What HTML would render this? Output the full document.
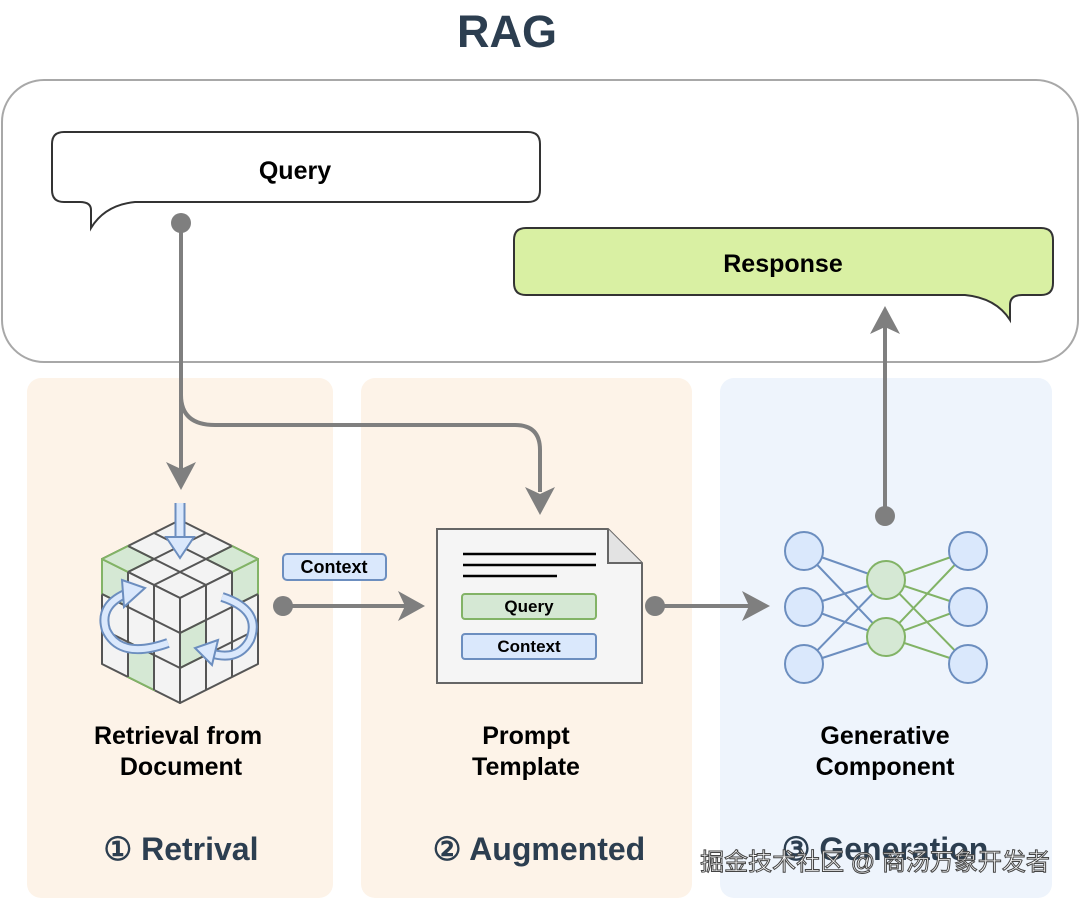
<!DOCTYPE html>
<html><head><meta charset="utf-8"><style>
html,body{margin:0;padding:0;background:#fff;}
body{width:1080px;height:900px;overflow:hidden;}
text{font-family:"Liberation Sans",Arial,sans-serif;font-weight:bold;}
</style></head><body>
<svg width="1080" height="900" viewBox="0 0 1080 900" xmlns="http://www.w3.org/2000/svg">
<text x="507" y="47" text-anchor="middle" font-size="45" fill="#2c3e50">RAG</text>
<rect x="2" y="80" width="1076" height="282" rx="42" fill="#fff" stroke="#a8a8a8" stroke-width="2"/>
<rect x="27" y="378" width="306" height="520" rx="14" fill="#fdf3e8"/>
<rect x="361" y="378" width="331" height="520" rx="14" fill="#fdf3e8"/>
<rect x="720" y="378" width="332" height="520" rx="14" fill="#eef4fc"/>

<!-- Query bubble -->
<path d="M64 132 H528 Q540 132 540 144 V190 Q540 202 528 202 H135 Q105 205 91 228 V210 Q91 202 80 202 H64 Q52 202 52 190 V144 Q52 132 64 132 Z" fill="#fff" stroke="#333" stroke-width="2"/>
<text x="295" y="179" text-anchor="middle" font-size="25" fill="#000">Query</text>
<!-- Response bubble -->
<path d="M526 228 H1041 Q1053 228 1053 240 V283 Q1053 295 1041 295 H1022 Q1010 295 1010 305 V320 Q996 298 965 295 H526 Q514 295 514 283 V240 Q514 228 526 228 Z" fill="#d9f0a3" stroke="#333" stroke-width="2"/>
<text x="783" y="272" text-anchor="middle" font-size="25" fill="#000">Response</text>

<!-- connectors -->
<g stroke="#7f7f7f" stroke-width="4" fill="none">
<path d="M181 223 V470"/>
<path d="M181 395 Q181 425 215 425 H515 Q540 425 540 450 V492"/>
<path d="M283 606 H408"/>
<path d="M655 606 H752"/>
<path d="M885 516 V325"/>
</g>
<g fill="#7f7f7f">
<circle cx="181" cy="223" r="10"/>
<polygon points="166,462 181,490 196,462 181,469"/>
<polygon points="525,487 540,515 555,487 540,494"/>
<circle cx="283" cy="606" r="10"/>
<polygon points="398,591 425,606 398,621 405,606"/>
<circle cx="655" cy="606" r="10"/>
<polygon points="742,591 770,606 742,621 749,606"/>
<circle cx="885" cy="516" r="10"/>
<polygon points="870,334 885,306 900,334 885,327"/>
</g>

<!-- Context tag -->
<rect x="283" y="554" width="103" height="26" rx="4" fill="#dae8fc" stroke="#6c8ebf" stroke-width="2"/>
<text x="334" y="573" text-anchor="middle" font-size="18" fill="#000">Context</text>

<!-- cube -->
<g stroke="#555" stroke-width="2" stroke-linejoin="round">
<polygon points="180,520 258,559 180,598 102,559" fill="#f3f3f3"/>
<polygon points="102,559 180,598 180,703 102,664" fill="#f3f3f3"/>
<polygon points="180,598 258,559 258,664 180,703" fill="#f3f3f3"/>
<g stroke="#82b366" fill="#d5e8d4">
<polygon points="102,559 128,572 128,607 102,594"/>
<polygon points="128,642 154,655 154,690 128,677"/>
<polygon points="232,572 258,559 258,594 232,607"/>
<polygon points="180,633 206,620 206,655 180,668"/>
<polygon points="102,559 128,546 154,559 128,572"/>
<polygon points="258,559 232,546 206,559 232,572"/>
</g>
<path d="M206 533 L128 572 M232 546 L154 585 M154 533 L232 572 M128 546 L206 585 M128 572 V677 M154 585 V690 M102 594 L180 633 M102 629 L180 668 M206 585 V690 M232 572 V677 M180 633 L258 594 M180 668 L258 629 M180 598 V703" fill="none"/>
</g>
<g>
<path d="M180 503 V540" stroke="#6c8ebf" stroke-width="11" fill="none"/>
<path d="M180 503 V542" stroke="#dae8fc" stroke-width="7" fill="none"/>
<polygon points="166,537 180,558 194,537" fill="#dae8fc" stroke="#6c8ebf" stroke-width="2"/>
<path d="M168 643 Q120 660 106 630 Q98 604 130 592" stroke="#6c8ebf" stroke-width="10" fill="none"/>
<path d="M168 643 Q120 660 106 630 Q98 604 130 592" stroke="#dae8fc" stroke-width="6" fill="none"/>
<polygon points="122,580 145,588 124,607" fill="#dae8fc" stroke="#6c8ebf" stroke-width="2"/>
<path d="M222 597 Q262 610 250 640 Q238 662 210 653" stroke="#6c8ebf" stroke-width="10" fill="none"/>
<path d="M222 597 Q262 610 250 640 Q238 662 210 653" stroke="#dae8fc" stroke-width="6" fill="none"/>
<polygon points="218,640 195,648 212,665" fill="#dae8fc" stroke="#6c8ebf" stroke-width="2"/>
</g>

<!-- document -->
<path d="M437 529 H608 L642 563 V683 H437 Z" fill="#f5f5f5" stroke="#666" stroke-width="2"/>
<path d="M608 529 V563 H642" fill="#e3e3e3" stroke="#666" stroke-width="2"/>
<g stroke="#000" stroke-width="2.5"><path d="M463 554 H596 M463 565 H596 M463 576 H557"/></g>
<rect x="462" y="594" width="134" height="25" rx="3" fill="#d5e8d4" stroke="#82b366" stroke-width="2"/>
<text x="529" y="612" text-anchor="middle" font-size="17" fill="#000">Query</text>
<rect x="462" y="634" width="134" height="25" rx="3" fill="#dae8fc" stroke="#6c8ebf" stroke-width="2"/>
<text x="529" y="652" text-anchor="middle" font-size="17" fill="#000">Context</text>

<!-- neural net -->
<g stroke-width="2">
<g stroke="#6c8ebf">
<path d="M804 551 L886 580 M804 551 L886 637 M804 607 L886 580 M804 607 L886 637 M804 664 L886 580 M804 664 L886 637"/>
</g>
<g stroke="#82b366">
<path d="M968 551 L886 580 M968 551 L886 637 M968 607 L886 580 M968 607 L886 637 M968 664 L886 580 M968 664 L886 637"/>
</g>
<g fill="#dae8fc" stroke="#6c8ebf" stroke-width="2">
<circle cx="804" cy="551" r="19"/><circle cx="804" cy="607" r="19"/><circle cx="804" cy="664" r="19"/>
<circle cx="968" cy="551" r="19"/><circle cx="968" cy="607" r="19"/><circle cx="968" cy="664" r="19"/>
</g>
<g fill="#d5e8d4" stroke="#82b366" stroke-width="2">
<circle cx="886" cy="580" r="19"/><circle cx="886" cy="637" r="19"/>
</g>
</g>

<!-- labels -->
<g font-size="25" fill="#000" text-anchor="middle">
<text x="178" y="744">Retrieval from</text><text x="181" y="775">Document</text>
<text x="526" y="744">Prompt</text><text x="526" y="775">Template</text>
<text x="885" y="744">Generative</text><text x="885" y="775">Component</text>
</g>
<g font-size="32" fill="#2c3e50" text-anchor="middle">
<text x="181" y="860">① Retrival</text>
<text x="539" y="860">② Augmented</text>
<text x="885" y="860">③ Generation</text>
</g>
<text x="875" y="870" text-anchor="middle" font-size="24" fill="#fff" stroke="#444" stroke-width="1" style="font-family:'Liberation Sans','Noto Sans CJK SC',sans-serif;font-weight:normal">掘金技术社区 @ 商汤万象开发者</text>
</svg>
</body></html>
